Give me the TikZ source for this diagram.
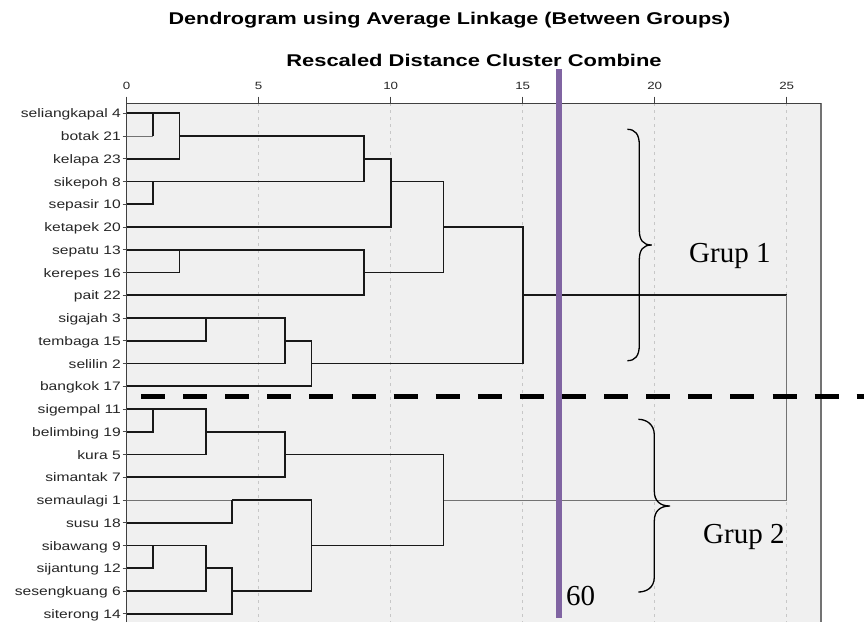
\documentclass[tikz,border=0pt]{standalone}
\usepackage{fontspec}
\setmainfont{Liberation Sans}
\newfontfamily\serifann{Liberation Serif}
\definecolor{bgbox}{HTML}{F0F0F0}
\definecolor{purp}{HTML}{8064A2}
\begin{document}
\begin{tikzpicture}[x=1pt,y=-1pt,
  dl/.style={line width=1.8pt, black!90, line join=miter},
  dlt/.style={line width=1pt, black!55},
  gridln/.style={line width=0.9pt, black!22, dash pattern=on 3pt off 4pt},
  axisln/.style={line width=1.5pt, black!75},
  rowlbl/.style={anchor=base east, inner sep=0pt, font=\fontsize{12.3}{14}\selectfont, text=black!85},
  ticklbl/.style={anchor=base, inner sep=0pt, font=\fontsize{10.5}{12}\selectfont, text=black!85},
  ttl/.style={anchor=base, inner sep=0pt, font=\bfseries\fontsize{17}{20}\selectfont, text=black},
  ann/.style={anchor=base west, inner sep=0pt, font=\serifann\fontsize{29}{32}\selectfont, text=black},
  bracestyle/.style={line width=1.3pt, black}
  ]
\useasboundingbox (0,0) rectangle (864,622);
\fill[white] (0,0) rectangle (864,622);
% plot area
\fill[bgbox] (126.7,103.3) rectangle (821,622);
\foreach \dd in {5,10,...,25}
  \draw[gridln] ({126.7+26.4*\dd},103.3) -- ({126.7+26.4*\dd},622);
\draw[line width=1.2pt, black!55] (821,103.3) -- (821,622);
\draw[axisln] (126.7,622) -- (126.7,103.3) -- (821,103.3);
% ticks and tick labels
\foreach \dd in {0,5,...,25} {
  \draw[axisln] ({126.7+26.4*\dd},96.5) -- ({126.7+26.4*\dd},103.3);
  \node[ticklbl] (t\dd) at ({126.7+26.4*\dd},89) {\scalebox{1.27}[1]{\dd}};
}
% titles
\node[ttl] (title) at (449.5,24) {\scalebox{1.27}[1]{Dendrogram using Average Linkage (Between Groups)}};
\node[ttl] (subtitle) at (474,66) {\scalebox{1.29}[1]{Rescaled Distance Cluster Combine}};
% row labels
\foreach \i/\t in {0/seliangkapal 4,1/botak 21,2/kelapa 23,3/sikepoh 8,4/sepasir 10,5/ketapek 20,6/sepatu 13,7/kerepes 16,8/pait 22,9/sigajah 3,10/tembaga 15,11/selilin 2,12/bangkok 17,13/sigempal 11,14/belimbing 19,15/kura 5,16/simantak 7,17/semaulagi 1,18/susu 18,19/sibawang 9,20/sijantung 12,21/sesengkuang 6,22/siterong 14} {
  \node[rowlbl] (L\i) at (121,{113.3+22.75*\i+4.5}) {\scalebox{1.27}[1]{\t}};
  \draw[line width=1pt, black!70] (122.5,{113.3+22.75*\i}) -- (126.7,{113.3+22.75*\i});
}
% dendrogram
\begin{scope}[shift={(126.7,113.3)}, x=26.4pt, y=-22.75pt]
  % upper group
  \draw[dl] (0,0) -- (1,0) -- (1,1);
  \draw[dlt] (0,1) -- (1,1);
  \draw[dl] (1,0) -- (2,0) -- (2,2) -- (0,2);
  \draw[dl] (0,3) -- (1,3) -- (1,4) -- (0,4);
  \draw[dl] (2,1) -- (9,1) -- (9,3) -- (1,3);
  \draw[dl] (9,2) -- (10,2) -- (10,5) -- (0,5);
  \draw[dl] (0,6) -- (2,6) -- (2,7) -- (0,7);
  \draw[dl] (2,6) -- (9,6) -- (9,8) -- (0,8);
  \draw[dl] (10,3) -- (12,3) -- (12,7) -- (9,7);
  \draw[dl] (0,9) -- (3,9) -- (3,10) -- (0,10);
  \draw[dl] (3,9) -- (6,9) -- (6,11) -- (0,11);
  \draw[dl] (6,10) -- (7,10) -- (7,12) -- (0,12);
  \draw[dl] (12,5) -- (15,5) -- (15,11) -- (7,11);
  % lower group
  \draw[dl] (0,13) -- (1,13) -- (1,14) -- (0,14);
  \draw[dl] (1,13) -- (3,13) -- (3,15) -- (0,15);
  \draw[dl] (3,14) -- (6,14) -- (6,16) -- (0,16);
  \draw[dlt] (0,17) -- (4,17);
  \draw[dl] (4,17) -- (4,18) -- (0,18);
  \draw[dl] (0,19) -- (1,19) -- (1,20) -- (0,20);
  \draw[dl] (1,19) -- (3,19) -- (3,21) -- (0,21);
  \draw[dl] (3,20) -- (4,20) -- (4,22) -- (0,22);
  \draw[dl] (4,17) -- (7,17) -- (7,21) -- (4,21);
  \draw[dl] (6,15) -- (12,15) -- (12,19) -- (7,19);
  % final merge
  \draw[dl] (15,8) -- (25,8);
  \draw[dlt] (25,8) -- (25,17) -- (12,17);
\end{scope}
% annotations
\draw[line width=4.5pt, black, dash pattern=on 24pt off 18.1pt] (141,396.7) -- (864,396.7);
\draw[purp, line width=6pt] (559,69) -- (559,618);
\draw[bracestyle] (627.3,129.3) .. controls (635,129.3) and (639.3,134) .. (639.3,145) -- (639.3,230)
  .. controls (639.3,240) and (643,245) .. (651.7,245)
  .. controls (643,245) and (639.3,250) .. (639.3,260) -- (639.3,345)
  .. controls (639.3,356) and (635,360.7) .. (627.3,360.7);
\draw[bracestyle] (638.3,419.3) .. controls (646,419.3) and (654.3,424) .. (654.3,435) -- (654.3,491)
  .. controls (654.3,501) and (660,506) .. (670,506)
  .. controls (660,506) and (654.3,511) .. (654.3,521) -- (654.3,577)
  .. controls (654.3,588) and (646,592) .. (638.3,592);
\node[ann] (g1) at (689,262) {Grup 1};
\node[ann] (g2) at (703,543) {Grup 2};
\node[ann] (cut) at (566,605) {60};
\end{tikzpicture}
\end{document}
